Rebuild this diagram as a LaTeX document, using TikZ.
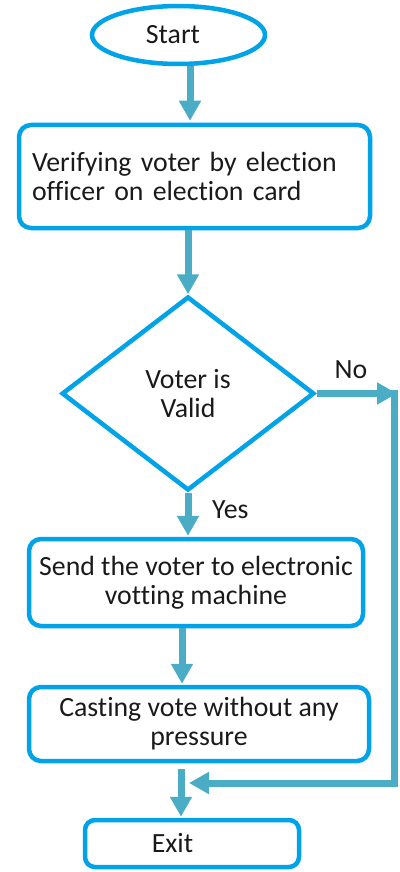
\documentclass[tikz,border=0pt]{standalone}
\usepackage{fontspec}
\setmainfont{Carlito}[Ligatures=NoCommon]
\usetikzlibrary{shapes.geometric,arrows.meta}
\definecolor{boxblue}{HTML}{00A2E8}
\definecolor{arrowteal}{HTML}{4BACC6}
\definecolor{ink}{HTML}{1A1A1A}
\begin{document}
\begin{tikzpicture}[x=1pt,y=-1pt,
  every node/.style={font=\fontsize{27.8}{29}\selectfont, text=ink},
  outline/.style={draw=boxblue, line width=4.5pt},
  procbox/.style={outline, rectangle, rounded corners=12pt, inner sep=0pt},
  flow/.style={draw=arrowteal, line width=7pt, line join=miter},
  arr/.style={flow, -{Triangle[length=20pt,width=21pt]}},
  lbl/.style={inner sep=0pt}]
\useasboundingbox (0,0) rectangle (399,872);

% flowchart nodes
\node[outline, ellipse, minimum width=173pt, minimum height=58pt, inner sep=0pt]
  (start) at (178.5,35) {Start\hspace*{11pt}};
\node[procbox, minimum width=351pt, minimum height=103pt, text width=325pt, align=left]
  (verify) at (194.5,176.5) {Verifying voter by election\\officer on election card};
\node[outline, diamond, aspect=1.3, minimum width=252.5pt, minimum height=194pt,
  inner sep=0pt, align=center]
  (valid) at (188,393.5) {Voter is\\Valid};
\node[procbox, minimum width=334pt, minimum height=87pt, align=center]
  (send) at (196,582.5) {Send the voter to electronic\\votting machine};
\node[procbox, minimum width=340pt, minimum height=74pt, align=center]
  (cast) at (199,724) {Casting vote without any\\pressure};
\node[procbox, rounded corners=10pt, minimum width=214pt, minimum height=47pt]
  (exit) at (192,843.5) {Exit\hspace*{39pt}};

% main flow
\draw[arr, shorten >=2pt] ([xshift=11.5pt]start.south) -- ([xshift=-4.5pt]verify.north);
\draw[arr] (verify.south -| valid.north) -- (valid.north);
\draw[arr, shorten >=1pt] (valid.south) -- (valid.south |- send.north);
\node[lbl, anchor=west] (yes) at (212,510) {Yes};
\draw[arr, shorten >=1pt] ([xshift=-14pt]send.south) -- ([xshift=-14pt]send.south |- cast.north);
\draw[arr, shorten <=6pt, shorten >=1pt] ([xshift=-18pt]cast.south) -- ([xshift=-18pt]cast.south |- exit.north);

% "No" branch going round to the exit
\coordinate (noturn) at (394,393.5);
\coordinate (nobottom) at (394,783);
\coordinate (mergeat) at (189,783);
\draw[arr] (valid.east) -- ([xshift=3pt]noturn);
\draw[arr] ([yshift=3.5pt]noturn) -- (nobottom) -- (mergeat);
\node[lbl] (no) at (351,370) {No};
\end{tikzpicture}
\end{document}
